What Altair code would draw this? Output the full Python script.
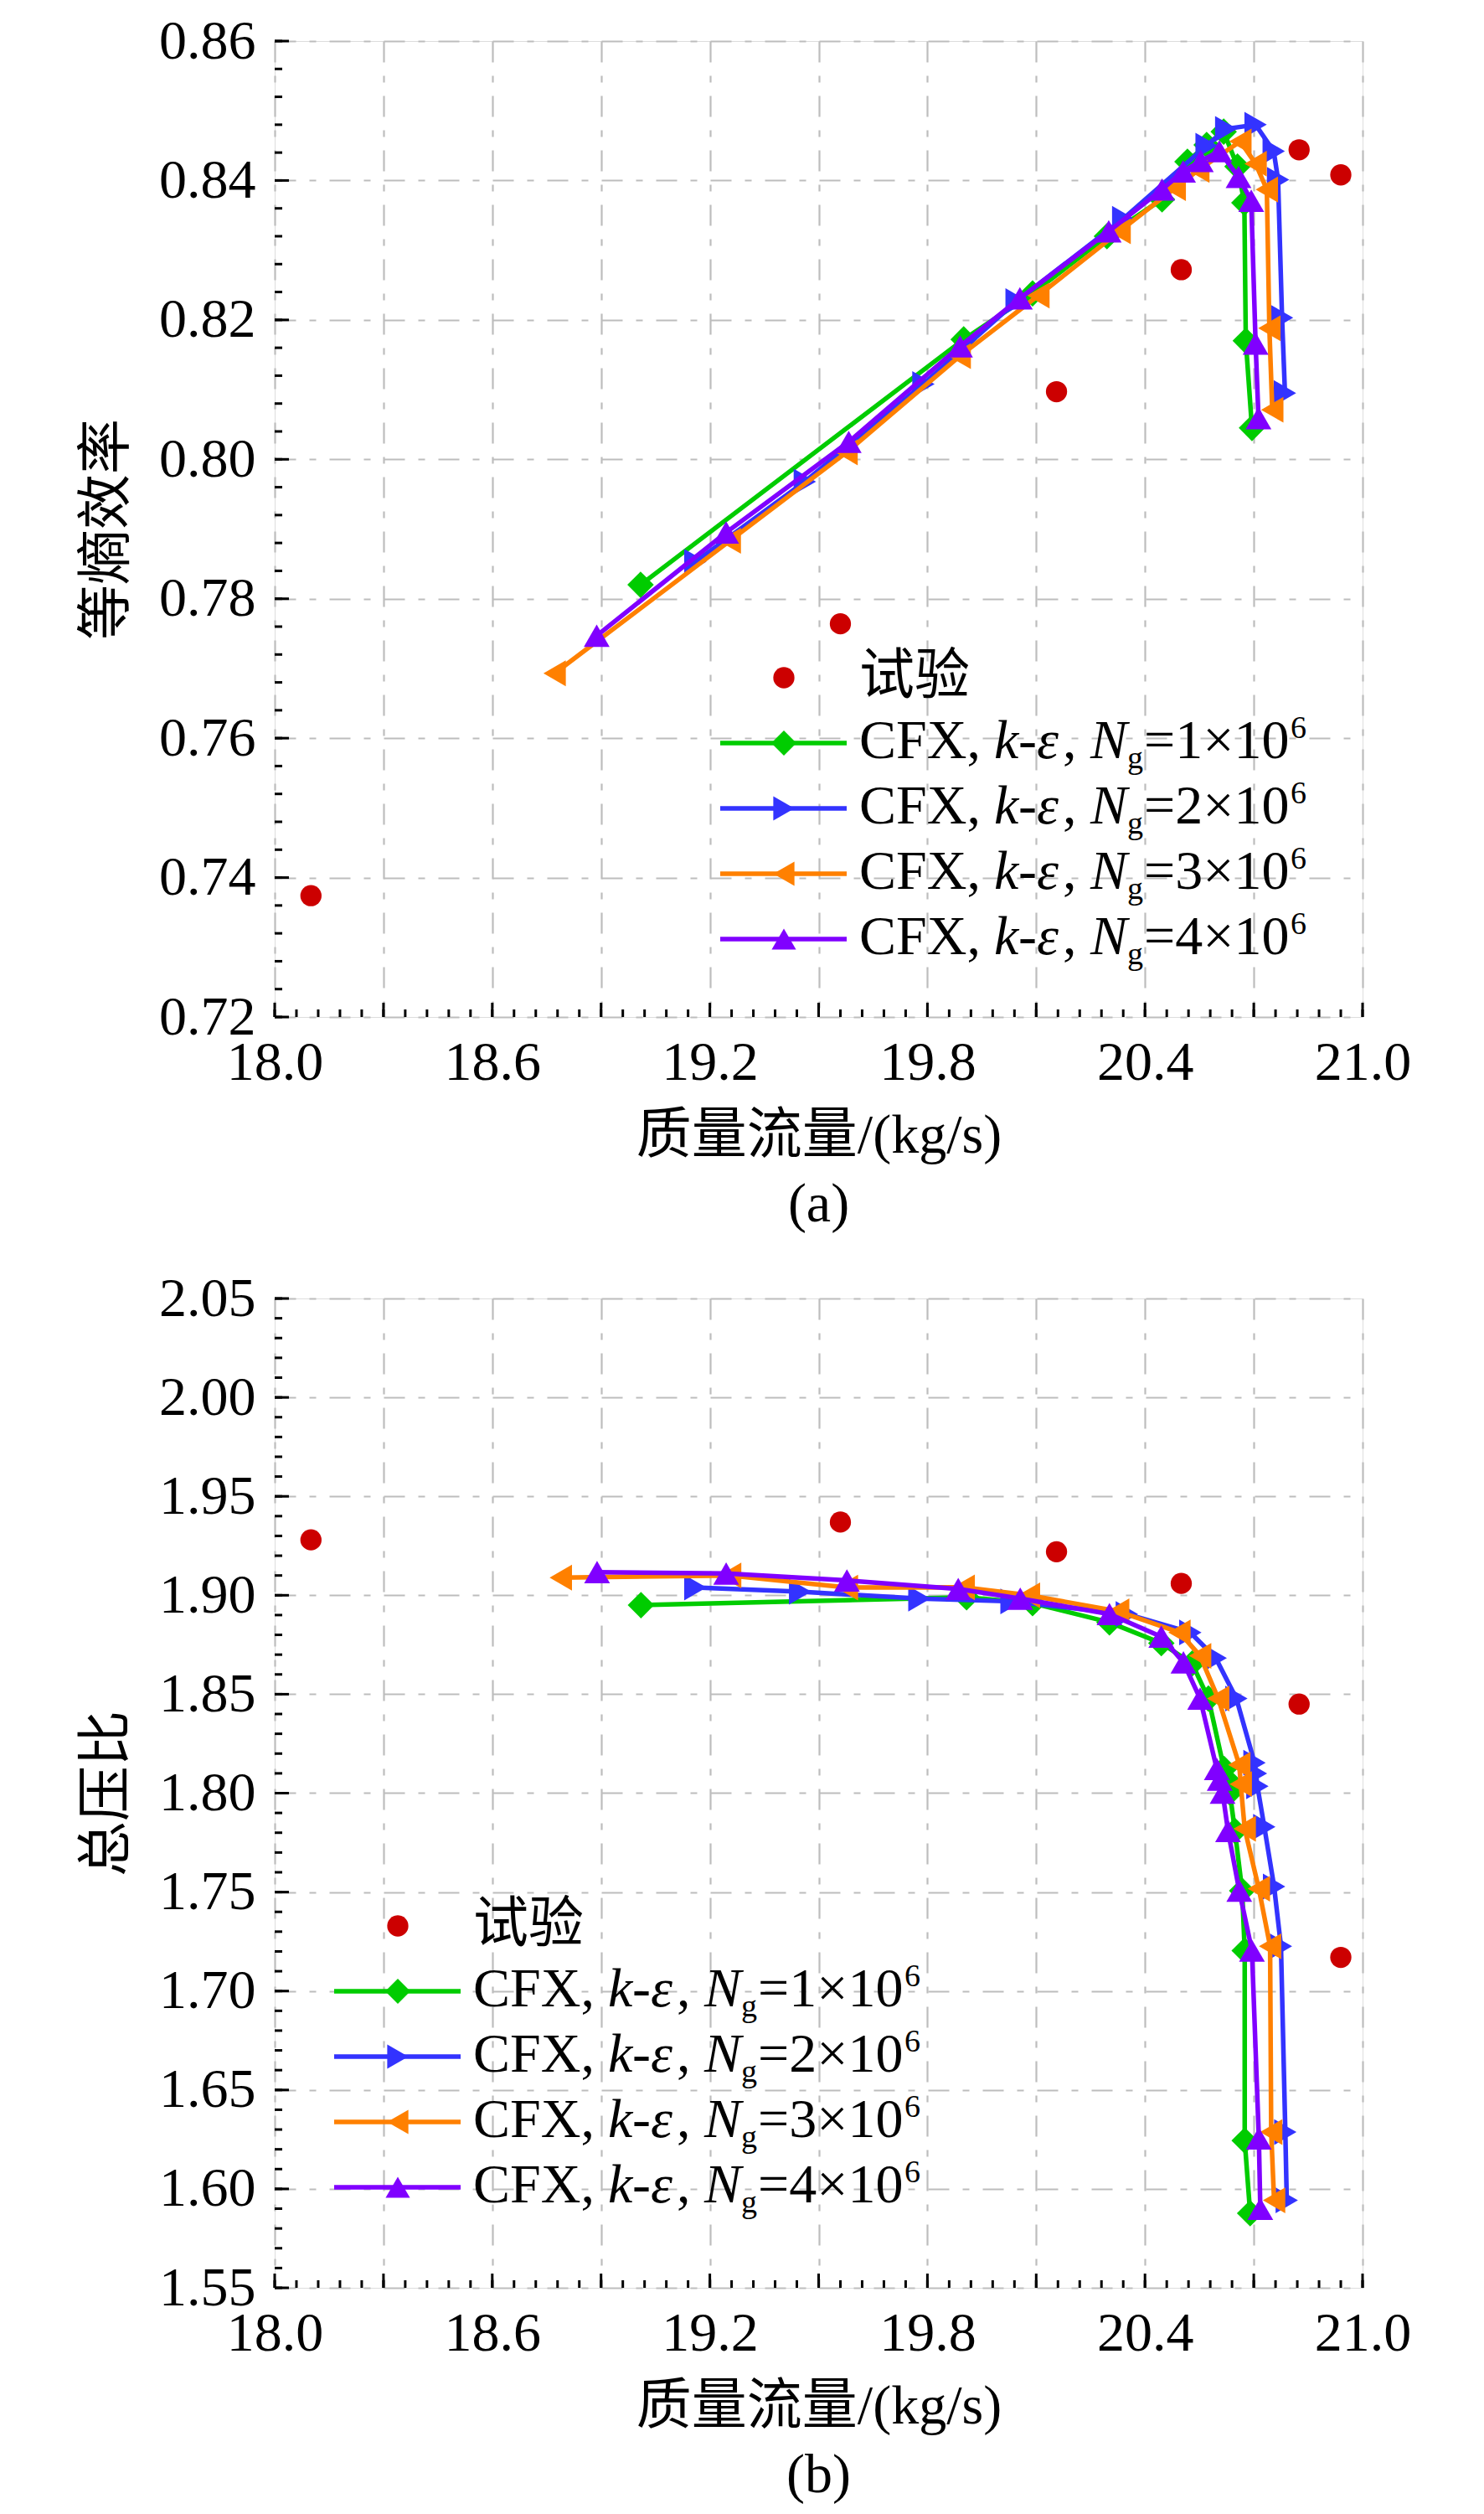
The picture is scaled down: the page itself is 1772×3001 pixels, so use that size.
import altair as alt
import pandas as pd

# ---------------- data ----------------
exp_mass = [18.10, 19.56, 20.156, 20.50, 20.825, 20.94]
exp_eff = [0.7374, 0.7764, 0.8097, 0.8272, 0.8444, 0.8408]
exp_pr = [1.928, 1.937, 1.922, 1.906, 1.845, 1.717]

# Ng = 1e6 (green)
g_mass_a = [19.009, 19.900, 20.090, 20.295, 20.447, 20.517, 20.570, 20.617, 20.655, 20.674, 20.678, 20.695]
g_eff_a = [0.7820, 0.8172, 0.8238, 0.8320, 0.8373, 0.8427, 0.8451, 0.8470, 0.8420, 0.8368, 0.8170, 0.8045]
g_mass_b = [19.010, 19.908, 20.090, 20.302, 20.445, 20.530, 20.575, 20.618, 20.626, 20.634, 20.648, 20.668, 20.675, 20.675, 20.690]
g_pr_b = [1.8950, 1.8990, 1.8960, 1.8863, 1.8758, 1.8655, 1.8478, 1.8122, 1.8068, 1.8003, 1.7809, 1.7507, 1.7204, 1.6244, 1.5877]

# Ng = 2e6 (blue)
b_mass_a = [19.160, 19.462, 19.789, 20.046, 20.340, 20.570, 20.624, 20.705, 20.755, 20.767, 20.778, 20.786]
b_eff_a = [0.7853, 0.7968, 0.8108, 0.8227, 0.8345, 0.8450, 0.8474, 0.8480, 0.8442, 0.8401, 0.8203, 0.8095]
b_mass_b = [19.160, 19.449, 19.778, 20.032, 20.350, 20.525, 20.595, 20.652, 20.702, 20.706, 20.710, 20.729, 20.756, 20.775, 20.787, 20.791]
b_pr_b = [1.9039, 1.9018, 1.8983, 1.8969, 1.8905, 1.8812, 1.8683, 1.8478, 1.8154, 1.8100, 1.8035, 1.7830, 1.7528, 1.7226, 1.6287, 1.5942]

# Ng = 3e6 (orange)
o_mass_a = [18.772, 19.255, 19.577, 19.889, 20.106, 20.330, 20.482, 20.547, 20.663, 20.705, 20.736, 20.743, 20.751]
o_eff_a = [0.7693, 0.7883, 0.8010, 0.8148, 0.8235, 0.8327, 0.8389, 0.8415, 0.8456, 0.8424, 0.8387, 0.8188, 0.8071]
o_mass_b = [18.789, 19.256, 19.578, 19.900, 20.080, 20.326, 20.495, 20.552, 20.602, 20.660, 20.664, 20.675, 20.714, 20.745, 20.748, 20.756]
o_pr_b = [1.9089, 1.9100, 1.9039, 1.9040, 1.9000, 1.8919, 1.8812, 1.8694, 1.8478, 1.8143, 1.8046, 1.7820, 1.7517, 1.7226, 1.6287, 1.5942]

# Ng = 4e6 (purple)
p_mass_a = [18.888, 19.245, 19.583, 19.890, 20.055, 20.300, 20.447, 20.505, 20.554, 20.605, 20.658, 20.693, 20.705, 20.713]
p_eff_a = [0.7747, 0.7895, 0.8025, 0.8162, 0.8231, 0.8327, 0.8387, 0.8413, 0.8428, 0.8442, 0.8405, 0.8371, 0.8166, 0.8059]
p_mass_b = [18.889, 19.245, 19.578, 19.885, 20.056, 20.302, 20.445, 20.506, 20.552, 20.598, 20.606, 20.614, 20.629, 20.660, 20.695, 20.714, 20.718]
p_pr_b = [1.9117, 1.9110, 1.9075, 1.9032, 1.8983, 1.8905, 1.8791, 1.8661, 1.8478, 1.8122, 1.8068, 1.8003, 1.7809, 1.7507, 1.7204, 1.6255, 1.5899]

grid_numbers = ["1", "2", "3", "4"]
exp_label = "试验"

x_major = [18.0, 18.3, 18.6, 18.9, 19.2, 19.5, 19.8, 20.1, 20.4, 20.7, 21.0]
y_major_a = [0.72, 0.74, 0.76, 0.78, 0.80, 0.82, 0.84, 0.86]
y_major_b = [1.55, 1.60, 1.65, 1.70, 1.75, 1.80, 1.85, 1.90, 1.95, 2.00, 2.05]

# ---------------- style ----------------
FONT = "Liberation Serif, Noto Sans CJK SC"
FS = 66
W = 1299
H_A, H_B = 1165, 1181
RED = "#CC0000"
COLORS = ["#00CC00", "#3333FF", "#FF8000", "#8000FF"]
SHAPES = ["diamond", "triangle-right", "triangle-left", "triangle-up"]
SIZES = [1000, 950, 950, 950]
LW = 5.5
GRID = dict(grid=True, gridColor="#BDBDBD", gridWidth=2.2, gridDash=[25, 16, 8, 16])

x_minor = [round(18.0 + 0.06 * i, 2) for i in range(51)]
y_minor_a = [round(0.72 + 0.004 * i, 3) for i in range(36)]
y_minor_b = [round(1.55 + 0.01 * i, 2) for i in range(51)]


def legend_layers(x0, y0):
    lines, marks, normal, italic, small = [], [], [], [], []
    marks.append(dict(px=x0 + 76, py=y0, shape="circle", col=RED, sz=640))
    normal.append(dict(px=x0 + 166, py=y0 + 19, t=exp_label))
    for i, n in enumerate(grid_numbers):
        y = y0 + 78 * (i + 1)
        lines.append(dict(px=x0, px2=x0 + 151, py=y, col=COLORS[i]))
        marks.append(dict(px=x0 + 76, py=y, shape=SHAPES[i], col=COLORS[i], sz=SIZES[i] - 100))
        xt, yb = x0 + 166, y + 18
        normal += [dict(px=xt, py=yb, t="CFX,"), dict(px=xt + 190, py=yb, t="-"),
                   dict(px=xt + 243, py=yb, t=","), dict(px=xt + 340, py=yb, t="=" + n + "×10")]
        italic += [dict(px=xt + 161, py=yb, t="k"), dict(px=xt + 212, py=yb, t="ε"),
                   dict(px=xt + 276, py=yb, t="N")]
        small += [dict(px=xt + 320, py=yb + 12, t="g"), dict(px=xt + 515, py=yb - 24, t="6")]
    PX = alt.X("px:Q", scale=None, axis=None)
    PY = alt.Y("py:Q", scale=None, axis=None)
    out = [
        alt.Chart(pd.DataFrame(lines)).mark_rule(strokeWidth=LW).encode(
            x=PX, x2="px2:Q", y=PY, color=alt.Color("col:N", scale=None)),
        alt.Chart(pd.DataFrame(marks)).mark_point(filled=True, opacity=1, strokeWidth=0).encode(
            x=PX, y=PY, color=alt.Color("col:N", scale=None),
            shape=alt.Shape("shape:N", scale=None), size=alt.Size("sz:Q", scale=None)),
        alt.Chart(pd.DataFrame(normal)).mark_text(font=FONT, fontSize=FS, align="left",
                                                  baseline="alphabetic", color="black").encode(x=PX, y=PY, text="t:N"),
        alt.Chart(pd.DataFrame(italic)).mark_text(font=FONT, fontSize=FS, fontStyle="italic", align="left",
                                                  baseline="alphabetic", color="black").encode(x=PX, y=PY, text="t:N"),
        alt.Chart(pd.DataFrame(small)).mark_text(font=FONT, fontSize=38, align="left",
                                                 baseline="alphabetic", color="black").encode(x=PX, y=PY, text="t:N"),
    ]
    return out


def panel(series, exp_y, ydom, ymajor, yminor, yfmt, ytitle, caption, lx, ly, H):
    xs = alt.Scale(domain=[18.0, 21.0], nice=False, zero=False)
    ys = alt.Scale(domain=ydom, nice=False, zero=False)
    xax = alt.Axis(values=x_major, labelExpr="round(datum.value*10) % 6 == 0 ? format(datum.value, '.1f') : ''",
                   ticks=False, tickSize=0, domain=False, labelFlush=False, labelOverlap=False,
                   labelFont=FONT, labelFontSize=FS, labelColor="black", labelPadding=22,
                   title="质量流量/(kg/s)", titleFont=FONT, titleFontSize=FS, titleFontWeight="normal",
                   titleColor="black", titlePadding=22, **GRID)
    yax = alt.Axis(values=ymajor, format=yfmt, ticks=False, tickSize=0, domain=False, labelFlush=False,
                   labelOverlap=False, labelFont=FONT, labelFontSize=FS, labelColor="black", labelPadding=23,
                   title=ytitle, titleFont=FONT, titleFontSize=FS, titleFontWeight="normal",
                   titleColor="black", titlePadding=28, **GRID)

    def X():
        return alt.X("m:Q", scale=xs, axis=xax)

    def Y():
        return alt.Y("v:Q", scale=ys, axis=yax)

    layers = []
    for k, (mm, vv) in enumerate(series):
        df = pd.DataFrame({"m": mm, "v": vv, "i": list(range(len(mm)))})
        layers.append(alt.Chart(df).mark_line(color=COLORS[k], strokeWidth=LW).encode(x=X(), y=Y(), order="i:Q"))
        layers.append(alt.Chart(df).mark_point(filled=True, opacity=1, strokeWidth=0, shape=SHAPES[k],
                                               size=SIZES[k], color=COLORS[k]).encode(x=X(), y=Y()))
    layers.append(alt.Chart(pd.DataFrame({"m": exp_mass, "v": exp_y})).mark_circle(
        size=640, color=RED, opacity=1).encode(x=X(), y=Y()))

    # inward ticks
    xmaj = pd.DataFrame({"m": x_major})
    xmin = pd.DataFrame({"m": x_minor})
    ymaj = pd.DataFrame({"v": ymajor})
    ymin = pd.DataFrame({"v": yminor})
    layers.append(alt.Chart(xmaj).mark_rule(color="black", strokeWidth=3).encode(
        x=X(), y=alt.value(H), y2=alt.value(H - 17)))
    layers.append(alt.Chart(xmin).mark_rule(color="black", strokeWidth=3).encode(
        x=X(), y=alt.value(H), y2=alt.value(H - 9)))
    layers.append(alt.Chart(ymaj).mark_rule(color="black", strokeWidth=3).encode(
        y=Y(), x=alt.value(0), x2=alt.value(17)))
    layers.append(alt.Chart(ymin).mark_rule(color="black", strokeWidth=3).encode(
        y=Y(), x=alt.value(0), x2=alt.value(9)))

    layers += legend_layers(lx, ly)
    return alt.layer(*layers).properties(
        width=W, height=H,
        title=alt.TitleParams(caption, orient="bottom", font=FONT, fontSize=FS, fontWeight="normal",
                              color="black", offset=18, anchor="middle", frame="group"))


chart_a = panel([(g_mass_a, g_eff_a), (b_mass_a, b_eff_a), (o_mass_a, o_eff_a), (p_mass_a, p_eff_a)],
                exp_eff, [0.72, 0.86], y_major_a, y_minor_a, ".2f", "等熵效率", "(a)", 532, 760, H_A)
chart_b = panel([(g_mass_b, g_pr_b), (b_mass_b, b_pr_b), (o_mass_b, o_pr_b), (p_mass_b, p_pr_b)],
                exp_pr, [1.55, 2.05], y_major_b, y_minor_b, ".2f", "总压比", "(b)", 71, 749, H_B)

chart = alt.vconcat(chart_a, chart_b, spacing=44).properties(
    padding={"left": 86, "top": 7, "right": 20, "bottom": 10}
).configure_view(stroke="black", strokeWidth=4).configure(background="white")

chart.save("out.html", embed_options={"renderer": "svg", "actions": False})
